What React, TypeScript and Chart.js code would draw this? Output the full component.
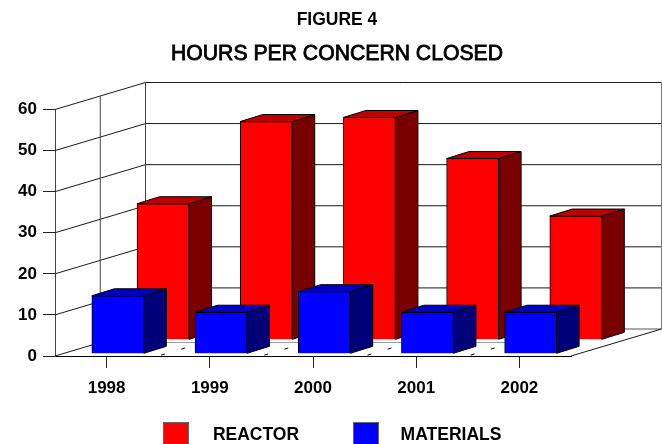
import React, { useEffect, useRef } from "react";
import { Chart, registerables } from "chart.js";

Chart.register(...registerables);

const categories = ["1998", "1999", "2000", "2001", "2002"];
const categoryIndex = [0, 1, 2, 3, 4];
const reactor = [33, 53, 54, 44, 30];
const materials = [14, 10, 15, 10, 10];
const seriesNames = ["REACTOR", "MATERIALS"];
const titleLine1 = "FIGURE 4";
const titleLine2 = "HOURS PER CONCERN CLOSED";

const FONT = '"Liberation Sans", Arial, sans-serif';
const WALL_DX = 90.5;
const WALL_DY = 27;
const BAR_DX = 22.5;
const BAR_DY = 7;
const BAR_W = 52;

function shade(ctx: CanvasRenderingContext2D, pts: number[][], fill: string) {
  ctx.beginPath();
  pts.forEach((p, i) => (i ? ctx.lineTo(p[0], p[1]) : ctx.moveTo(p[0], p[1])));
  ctx.closePath();
  ctx.fillStyle = fill;
  ctx.fill();
  ctx.strokeStyle = "#000";
  ctx.lineWidth = 1;
  ctx.stroke();
}

const wallsPlugin = {
  id: "walls",
  beforeDatasetsDraw(chart: any) {
    const { ctx, scales } = chart;
    const y = scales.y;
    const left = chart.chartArea.left;
    const right = chart.chartArea.right;
    const baseY = y.getPixelForValue(0);
    const topY = y.getPixelForValue(60);
    ctx.save();
    ctx.lineWidth = 1;
    const line = (a: number, b: number, c: number, d: number, col = "#1a1a1a") => {
      ctx.strokeStyle = col;
      ctx.beginPath();
      ctx.moveTo(a, b);
      ctx.lineTo(c, d);
      ctx.stroke();
    };
    y.ticks.forEach((t: any) => {
      const py = y.getPixelForValue(t.value);
      line(left, py, left + WALL_DX, py - WALL_DY);
      if (t.value > 0) line(left + WALL_DX, py - WALL_DY, right + WALL_DX, py - WALL_DY);
    });
    line(left + WALL_DX, baseY - WALL_DY, right + WALL_DX, baseY - WALL_DY, "#555");
    line(left + WALL_DX, topY - WALL_DY, left + WALL_DX, baseY - WALL_DY, "#444");
    line(right + WALL_DX, topY - WALL_DY, right + WALL_DX, baseY - WALL_DY, "#777");
    line(left + WALL_DX / 2, topY - WALL_DY / 2, left + WALL_DX / 2, baseY - WALL_DY / 2, "#444");
    line(right, baseY, right + WALL_DX, baseY - WALL_DY);
    // mid-depth line on the floor
    line(left + WALL_DX / 2, baseY - WALL_DY / 2, right + 4, baseY - WALL_DY / 2, "#999");
    // floor lines at the category boundaries
    ctx.setLineDash([4, 17]);
    ctx.lineDashOffset = -3;
    const step = (right - left) / categories.length;
    categories.forEach((_, i) => {
      if (i === 0) return;
      const fx = left + step * i;
      line(fx, baseY, fx + WALL_DX, baseY - WALL_DY, "#000");
    });
    ctx.restore();
  },
  beforeDatasetDraw(chart: any, args: any) {
    const { ctx } = chart;
    const ds = chart.data.datasets[args.index];
    const meta = chart.getDatasetMeta(args.index);
    ctx.save();
    meta.data.forEach((bar: any) => {
      const l = bar.x - bar.width / 2;
      const r = bar.x + bar.width / 2;
      const t = bar.y;
      const b = bar.base;
      shade(ctx, [[r, t], [r + BAR_DX, t - BAR_DY], [r + BAR_DX, b - BAR_DY], [r, b]], ds.sideColor);
      shade(ctx, [[l, t], [l + BAR_DX, t - BAR_DY], [r + BAR_DX, t - BAR_DY], [r, t]], ds.topColor);
    });
    ctx.restore();
  },
  afterDraw(chart: any) {
    const { ctx } = chart;
    ctx.save();
    ctx.fillStyle = "#000";
    ctx.textAlign = "center";
    ctx.textBaseline = "middle";
    ctx.font = `bold 17.5px ${FONT}`;
    ctx.fillText(titleLine1, 337, 20);
    ctx.font = `21.2px ${FONT}`;
    ctx.strokeStyle = "#000";
    ctx.lineWidth = 0.8;
    ctx.fillText(titleLine2, 337, 54);
    ctx.strokeText(titleLine2, 337, 54);
    // legend
    const boxes = [163.5, 353.5];
    const texts = [256, 451];
    chart.data.datasets.forEach((ds: any, i: number) => {
      ctx.fillStyle = ds.backgroundColor;
      ctx.fillRect(boxes[i], 422.5, 25, 25);
      ctx.strokeStyle = "#666";
      ctx.lineWidth = 1;
      ctx.strokeRect(boxes[i], 422.5, 25, 25);
      ctx.fillStyle = "#000";
      ctx.font = `bold 17.5px ${FONT}`;
      ctx.fillText(ds.label, texts[i], 435);
    });
    ctx.restore();
  },
};

export default function App() {
  const ref = useRef<HTMLCanvasElement>(null);
  useEffect(() => {
    const pts = (vals: number[]) => vals.map((v, i) => ({ x: categoryIndex[i], y: v }));
    const hiddenX = (shift: number) => ({
      type: "linear",
      display: false,
      offset: false,
      min: -0.5 - shift,
      max: 4.5 - shift,
      grid: { offset: false },
    });
    const hiddenY = (shift: number) => ({
      type: "linear",
      display: false,
      min: -shift,
      max: 60 - shift,
    });
    const barStyle = {
      grouped: false,
      clip: false,
      borderColor: "#000",
      borderWidth: 1,
      barThickness: BAR_W,
      maxBarThickness: BAR_W,
    };
    const chart = new Chart(ref.current!, {
      type: "bar",
      data: {
        labels: categories,
        datasets: [
          {
            ...barStyle,
            label: seriesNames[0],
            data: pts(reactor),
            xAxisID: "xRed",
            yAxisID: "yRed",
            order: 2,
            backgroundColor: "#ff0000",
            sideColor: "#7a0000",
            topColor: "#c00000",
          },
          {
            ...barStyle,
            label: seriesNames[1],
            data: pts(materials),
            xAxisID: "xBlue",
            yAxisID: "yBlue",
            order: 1,
            backgroundColor: "#0000ff",
            sideColor: "#000078",
            topColor: "#0000c0",
          },
        ] as any,
      },
      options: {
        responsive: false,
        animation: false,
        devicePixelRatio: 1,
        layout: { padding: { top: 109.5, right: 91, left: 0, bottom: 0 } },
        plugins: { legend: { display: false }, title: { display: false }, tooltip: { enabled: false } },
        scales: {
          x: {
            type: "category",
            offset: true,
            grid: { offset: false, drawOnChartArea: false, tickLength: 12, color: "#222" },
            border: { color: "#000", width: 1 },
            ticks: {
              color: "#000",
              padding: 10,
              maxRotation: 0,
              font: { family: FONT, size: 17, weight: "bold" },
            },
            afterFit(s: any) {
              s.height = 88;
            },
          },
          y: {
            type: "linear",
            min: 0,
            max: 60,
            grid: { drawOnChartArea: false, tickLength: 12, color: "#222" },
            border: { color: "#444", width: 1 },
            ticks: {
              stepSize: 10,
              color: "#000",
              padding: 6,
              font: { family: FONT, size: 17, weight: "bold" },
            },
            afterFit(s: any) {
              s.width = 55;
            },
          },
          xRed: hiddenX(56.3 / 103),
          xBlue: hiddenX(11.2 / 103),
          yRed: hiddenY(16.7 / 4.11),
          yBlue: hiddenY(2.7 / 4.11),
        } as any,
      },
      plugins: [wallsPlugin],
    } as any);
    return () => chart.destroy();
  }, []);
  return (
    <div style={{ position: "fixed", left: 0, top: 0, width: 662, height: 444, overflow: "hidden", background: "#fff" }}>
      <canvas ref={ref} width={662} height={444} style={{ display: "block" }} />
    </div>
  );
}
